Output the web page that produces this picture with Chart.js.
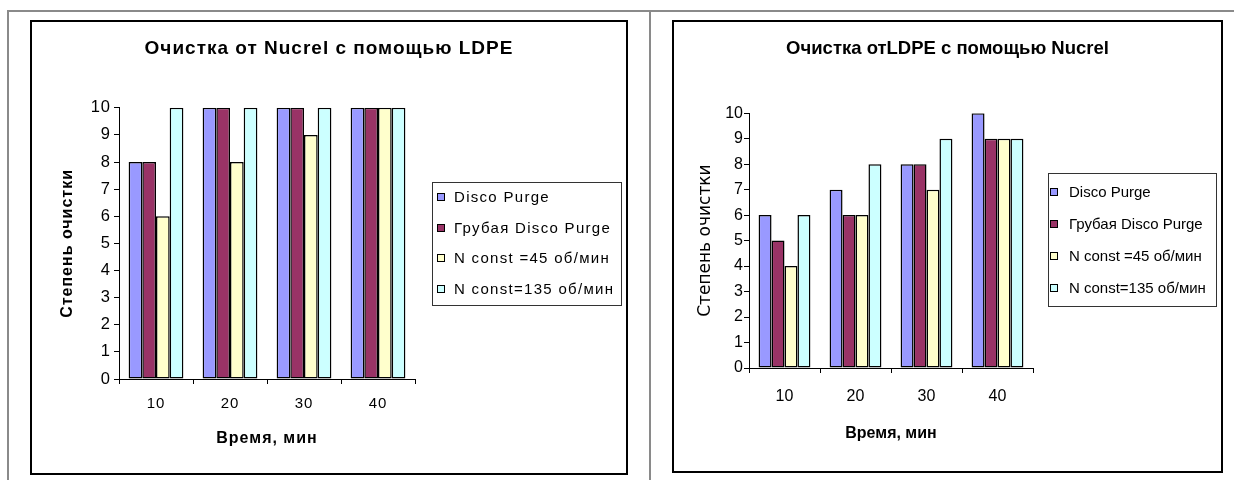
<!DOCTYPE html>
<html>
<head>
<meta charset="utf-8">
<title>Степень очистки</title>
<script src="https://cdn.jsdelivr.net/npm/chart.js@4.4.1/dist/chart.umd.min.js"></script>
<style>
  html, body { margin: 0; padding: 0; background: #fff; }
  body { width: 1234px; height: 480px; position: relative; overflow: hidden; font-family: "Liberation Sans", Arial, sans-serif; }
  .rule-h { position: absolute; left: 7px; top: 10px; width: 1227px; height: 0; border-top: 2px solid #8a8a8a; }
  .rule-v { position: absolute; top: 10px; width: 0; height: 470px; border-left: 2px solid #8a8a8a; }
  .frame { position: absolute; border: 2px solid #000; box-sizing: border-box; background: #fff; }
  .frame canvas { display: block; }
</style>
</head>
<body>
<div class="rule-h"></div>
<div class="rule-v" style="left:7px"></div>
<div class="rule-v" style="left:649px"></div>
<div class="frame" style="left:30px;top:20px;width:598px;height:455px"><canvas id="chartLeft" width="594" height="451"></canvas></div>
<div class="frame" style="left:672px;top:20px;width:551px;height:453px"><canvas id="chartRight" width="547" height="449"></canvas></div>
<script>
// categories / series
const times = ['10', '20', '30', '40'];
const seriesNames = ['Disco Purge', 'Грубая Disco Purge', 'N const =45 об/мин', 'N const=135 об/мин'];
const seriesColors = ['#9999FF', '#993366', '#FFFFCC', '#CCFFFF'];
const yTicks = [0, 1, 2, 3, 4, 5, 6, 7, 8, 9, 10];

// Очистка от Nucrel с помощью LDPE
const nucrelDisco = [8, 10, 10, 10];
const nucrelRough = [8, 10, 10, 10];
const nucrelN45 = [6, 8, 9, 10];
const nucrelN135 = [10, 10, 10, 10];

// Очистка от LDPE с помощью Nucrel
const ldpeDisco = [6, 7, 8, 10];
const ldpeRough = [5, 6, 8, 9];
const ldpeN45 = [4, 6, 7, 9];
const ldpeN135 = [6, 8, 9, 9];

const FONT = '"Liberation Sans", Arial, sans-serif';
const WIDE = '"DejaVu Sans", "Liberation Sans", sans-serif';

// excel-ish wide text
const spacing = {
    id: 'spacing',
    beforeUpdate(chart, args, opts) { chart.ctx.letterSpacing = opts.px + 'px'; },
    beforeDraw(chart, args, opts) { chart.ctx.letterSpacing = opts.px + 'px'; }
};

// legend in a bordered box
const boxLegend = {
    id: 'boxLegend',
    afterDraw(chart, args, o) {
        const ctx = chart.ctx;
        ctx.save();
        ctx.letterSpacing = o.spacing + 'px';
        ctx.fillStyle = '#fff';
        ctx.fillRect(o.x, o.y, o.w, o.h);
        ctx.strokeStyle = '#333';
        ctx.lineWidth = 1;
        ctx.strokeRect(o.x + 0.5, o.y + 0.5, o.w, o.h);
        ctx.font = o.font;
        ctx.textBaseline = 'middle';
        ctx.textAlign = 'left';
        chart.data.datasets.forEach(function(ds, i) {
            const cy = Math.round(o.firstY + i * o.step);
            ctx.fillStyle = ds.backgroundColor;
            ctx.fillRect(o.boxX, cy - 4, 8, 8);
            ctx.strokeStyle = '#000';
            ctx.strokeRect(o.boxX + 0.5, cy - 3.5, 7, 7);
            ctx.fillStyle = '#000';
            ctx.fillText(ds.label, o.textX, cy + 1);
        });
        ctx.restore();
    }
};

function buildChart(id, c) {
    const series = c.series.map(function(vals, i) {
        return {
            label: seriesNames[i],
            data: vals,
            backgroundColor: seriesColors[i],
            borderColor: '#000',
            borderWidth: 1.5,
            borderSkipped: false,
            barPercentage: 1,
            categoryPercentage: c.catPct
        };
    });

    return new Chart(document.getElementById(id), {
        type: 'bar',
        data: { labels: times, datasets: series },
        options: {
            responsive: false,
            animation: false,
            layout: { padding: 0 },
            plugins: {
                legend: { display: false },
                tooltip: { enabled: false },
                title: {
                    display: true,
                    text: c.title,
                    color: '#000',
                    font: { family: FONT, size: c.titleSize, weight: 'bold' },
                    padding: { top: c.titleTop, bottom: c.titleBottom }
                },
                spacing: { px: c.spacing },
                boxLegend: c.legend
            },
            scales: {
                x: {
                    grid: { display: true, drawOnChartArea: false, drawTicks: true, tickLength: 5, tickColor: '#000', tickWidth: 1, offset: true },
                    border: { display: true, color: '#000', width: 1 },
                    ticks: { color: '#000', font: { family: FONT, size: c.xTickSize }, padding: c.xTickPad, maxRotation: 0 },
                    title: {
                        display: true,
                        text: 'Время, мин',
                        color: '#000',
                        font: { family: FONT, size: 16, weight: 'bold' },
                        padding: { top: 0, bottom: c.xTitlePad }
                    },
                    afterFit: function(s) { s.height = c.xHeight; }
                },
                y: {
                    min: 0,
                    max: 10,
                    afterBuildTicks: function(s) { s.ticks = yTicks.map(function(v) { return { value: v }; }); },
                    grid: { display: true, drawOnChartArea: false, drawTicks: true, tickLength: 5, tickColor: '#000', tickWidth: 1 },
                    border: { display: true, color: '#000', width: 1 },
                    ticks: { color: '#000', font: { family: FONT, size: c.yTickSize }, padding: c.yTickPad },
                    title: {
                        display: true,
                        text: 'Степень очистки',
                        color: '#000',
                        font: c.yTitleFont,
                        padding: { top: c.yTitlePad, bottom: 0 }
                    },
                    afterFit: function(s) { s.width = c.yWidth; }
                },
                // empty box on the right, the legend is drawn over it
                side: {
                    type: 'linear',
                    position: 'right',
                    display: true,
                    grid: { display: false },
                    border: { display: false },
                    ticks: { display: false },
                    afterFit: function(s) { s.width = c.sideWidth; }
                }
            }
        },
        plugins: [spacing, boxLegend]
    });
}

buildChart('chartLeft', {
    title: 'Очистка от Nucrel с помощью LDPE',
    series: [nucrelDisco, nucrelRough, nucrelN45, nucrelN135],
    catPct: 0.74,
    sideWidth: 211,
    titleSize: 19, titleTop: 15, titleBottom: 48,
    xTickSize: 15, yTickSize: 16.5,
    xHeight: 94, xTickPad: 11, xTitlePad: 25,
    yWidth: 87, yTickPad: 3, yTitlePad: 26,
    yTitleFont: { family: FONT, size: 16, weight: 'bold' },
    spacing: 1,
    legend: { x: 400, y: 160, w: 189, h: 123, boxX: 405, textX: 422, firstY: 175, step: 30.7, font: '15px ' + FONT, spacing: 1.3 }
});

buildChart('chartRight', {
    title: 'Очистка отLDPE с помощью Nucrel',
    series: [ldpeDisco, ldpeRough, ldpeN45, ldpeN135],
    catPct: 0.73,
    sideWidth: 188,
    titleSize: 18.5, titleTop: 16, titleBottom: 53,
    xTickSize: 16, yTickSize: 16,
    xHeight: 103, xTickPad: 14, xTitlePad: 28,
    yWidth: 75, yTickPad: 1, yTitlePad: 21,
    yTitleFont: { family: WIDE, size: 17, weight: 'normal' },
    spacing: 0,
    legend: { x: 374, y: 151, w: 168, h: 133, boxX: 376, textX: 395, firstY: 170, step: 32, font: '15px ' + FONT, spacing: 0 }
});
</script>
</body>
</html>
